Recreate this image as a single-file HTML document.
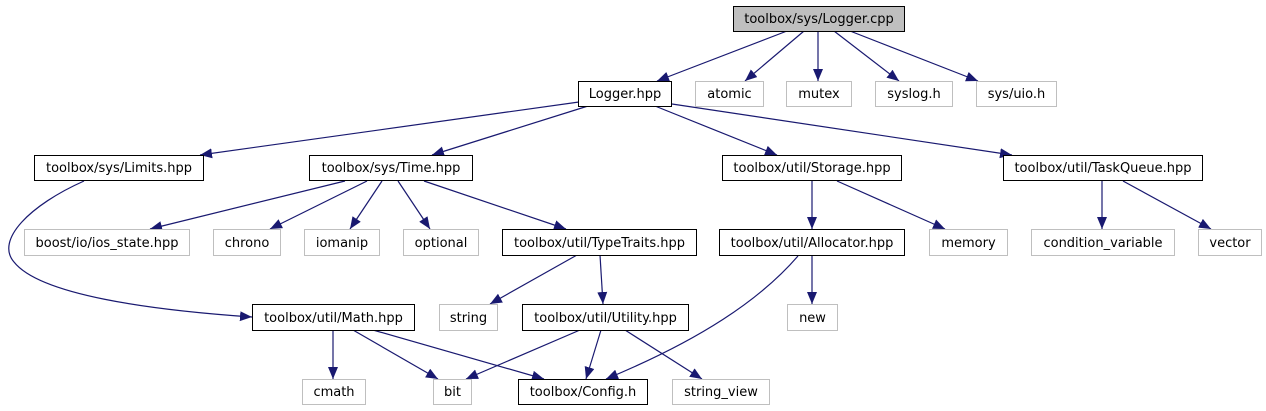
<!DOCTYPE html>
<html><head><meta charset="utf-8"><style>
html,body{margin:0;padding:0;background:#fff;}
svg{display:block;}
text{font-family:"DejaVu Sans","Liberation Sans",sans-serif;font-size:13px;fill:#000;}
</style></head><body>
<svg width="1266" height="411" viewBox="0 0 1266 411" xmlns="http://www.w3.org/2000/svg">
<defs>
<marker id="a" markerUnits="userSpaceOnUse" markerWidth="13" markerHeight="11" refX="12" refY="5" orient="auto">
<path d="M0,0 L12,5 L0,10 z" fill="#191970"/>
</marker>
</defs>
<g stroke="#191970" stroke-width="1.2" fill="none" marker-end="url(#a)">
<line x1="787" y1="31" x2="657" y2="81"/>
<line x1="804" y1="31" x2="745" y2="81"/>
<line x1="818" y1="31" x2="818" y2="81"/>
<line x1="834" y1="31" x2="899" y2="81"/>
<line x1="850" y1="31" x2="978" y2="81"/>
<line x1="579" y1="102" x2="200" y2="155"/>
<line x1="588" y1="106" x2="432" y2="155"/>
<line x1="655" y1="106" x2="777" y2="155"/>
<line x1="672" y1="104" x2="1012" y2="155"/>
<path d="M84,181 C30,205 -5,240 14,262 C40,295 150,310 252,317"/>
<line x1="345" y1="181" x2="150" y2="229"/>
<line x1="367" y1="181" x2="270" y2="229"/>
<line x1="382" y1="181" x2="350" y2="229"/>
<line x1="398" y1="181" x2="430" y2="229"/>
<line x1="424" y1="181" x2="566" y2="229"/>
<line x1="812" y1="181" x2="812" y2="229"/>
<line x1="837" y1="181" x2="945" y2="229"/>
<line x1="1102" y1="181" x2="1102" y2="229"/>
<line x1="1123" y1="181" x2="1211" y2="229"/>
<line x1="577" y1="255" x2="490" y2="304"/>
<line x1="600" y1="255" x2="603" y2="304"/>
<line x1="812" y1="255" x2="812" y2="304"/>
<path d="M798,256 C760,300 700,340 606,379"/>
<line x1="333" y1="330" x2="333" y2="379"/>
<line x1="353" y1="330" x2="438" y2="379"/>
<line x1="373" y1="330" x2="544" y2="379"/>
<line x1="580" y1="330" x2="466" y2="379"/>
<line x1="601" y1="330" x2="586" y2="379"/>
<line x1="625" y1="330" x2="702" y2="379"/>
</g>
<g stroke-width="1">
<rect x="733.5" y="6.5" width="171" height="25" fill="#bfbfbf" stroke="#000"/>
<rect x="578.5" y="81.5" width="93" height="25" fill="#fff" stroke="#000"/>
<rect x="695.5" y="81.5" width="68" height="25" fill="#fff" stroke="#bfbfbf"/>
<rect x="786.5" y="81.5" width="65" height="25" fill="#fff" stroke="#bfbfbf"/>
<rect x="875.5" y="81.5" width="77" height="25" fill="#fff" stroke="#bfbfbf"/>
<rect x="976.5" y="81.5" width="80" height="25" fill="#fff" stroke="#bfbfbf"/>
<rect x="34.5" y="155.5" width="169" height="25" fill="#fff" stroke="#000"/>
<rect x="309.5" y="155.5" width="163" height="25" fill="#fff" stroke="#000"/>
<rect x="722.5" y="155.5" width="179" height="25" fill="#fff" stroke="#000"/>
<rect x="1003.5" y="155.5" width="199" height="25" fill="#fff" stroke="#000"/>
<rect x="24.5" y="229.5" width="165" height="26" fill="#fff" stroke="#bfbfbf"/>
<rect x="213.5" y="229.5" width="67" height="26" fill="#fff" stroke="#bfbfbf"/>
<rect x="304.5" y="229.5" width="75" height="26" fill="#fff" stroke="#bfbfbf"/>
<rect x="403.5" y="229.5" width="75" height="26" fill="#fff" stroke="#bfbfbf"/>
<rect x="502.5" y="229.5" width="194" height="26" fill="#fff" stroke="#000"/>
<rect x="719.5" y="229.5" width="185" height="26" fill="#fff" stroke="#000"/>
<rect x="929.5" y="229.5" width="78" height="26" fill="#fff" stroke="#bfbfbf"/>
<rect x="1031.5" y="229.5" width="143" height="26" fill="#fff" stroke="#bfbfbf"/>
<rect x="1198.5" y="229.5" width="63" height="26" fill="#fff" stroke="#bfbfbf"/>
<rect x="252.5" y="304.5" width="162" height="26" fill="#fff" stroke="#000"/>
<rect x="439.5" y="304.5" width="58" height="26" fill="#fff" stroke="#bfbfbf"/>
<rect x="522.5" y="304.5" width="166" height="26" fill="#fff" stroke="#000"/>
<rect x="787.5" y="304.5" width="50" height="26" fill="#fff" stroke="#bfbfbf"/>
<rect x="302.5" y="379.5" width="63" height="25" fill="#fff" stroke="#bfbfbf"/>
<rect x="433.5" y="379.5" width="38" height="25" fill="#fff" stroke="#bfbfbf"/>
<rect x="518.5" y="379.5" width="129" height="25" fill="#fff" stroke="#000"/>
<rect x="672.5" y="379.5" width="97" height="25" fill="#fff" stroke="#bfbfbf"/>
</g>
<g text-anchor="middle">
<text x="819" y="23">toolbox/sys/Logger.cpp</text>
<text x="625" y="98">Logger.hpp</text>
<text x="729.5" y="98">atomic</text>
<text x="819" y="98">mutex</text>
<text x="914" y="98">syslog.h</text>
<text x="1016.5" y="98">sys/uio.h</text>
<text x="119" y="172">toolbox/sys/Limits.hpp</text>
<text x="391" y="172">toolbox/sys/Time.hpp</text>
<text x="812" y="172">toolbox/util/Storage.hpp</text>
<text x="1103" y="172">toolbox/util/TaskQueue.hpp</text>
<text x="107" y="247">boost/io/ios_state.hpp</text>
<text x="247" y="247">chrono</text>
<text x="342" y="247">iomanip</text>
<text x="441" y="247">optional</text>
<text x="599.5" y="247">toolbox/util/TypeTraits.hpp</text>
<text x="812" y="247">toolbox/util/Allocator.hpp</text>
<text x="968.5" y="247">memory</text>
<text x="1103" y="247">condition_variable</text>
<text x="1230" y="247">vector</text>
<text x="333.5" y="322">toolbox/util/Math.hpp</text>
<text x="468.5" y="322">string</text>
<text x="605.5" y="322">toolbox/util/Utility.hpp</text>
<text x="812.5" y="322">new</text>
<text x="334" y="396">cmath</text>
<text x="452.5" y="396">bit</text>
<text x="583" y="396">toolbox/Config.h</text>
<text x="721" y="396">string_view</text>
</g>
</svg>
</body></html>
